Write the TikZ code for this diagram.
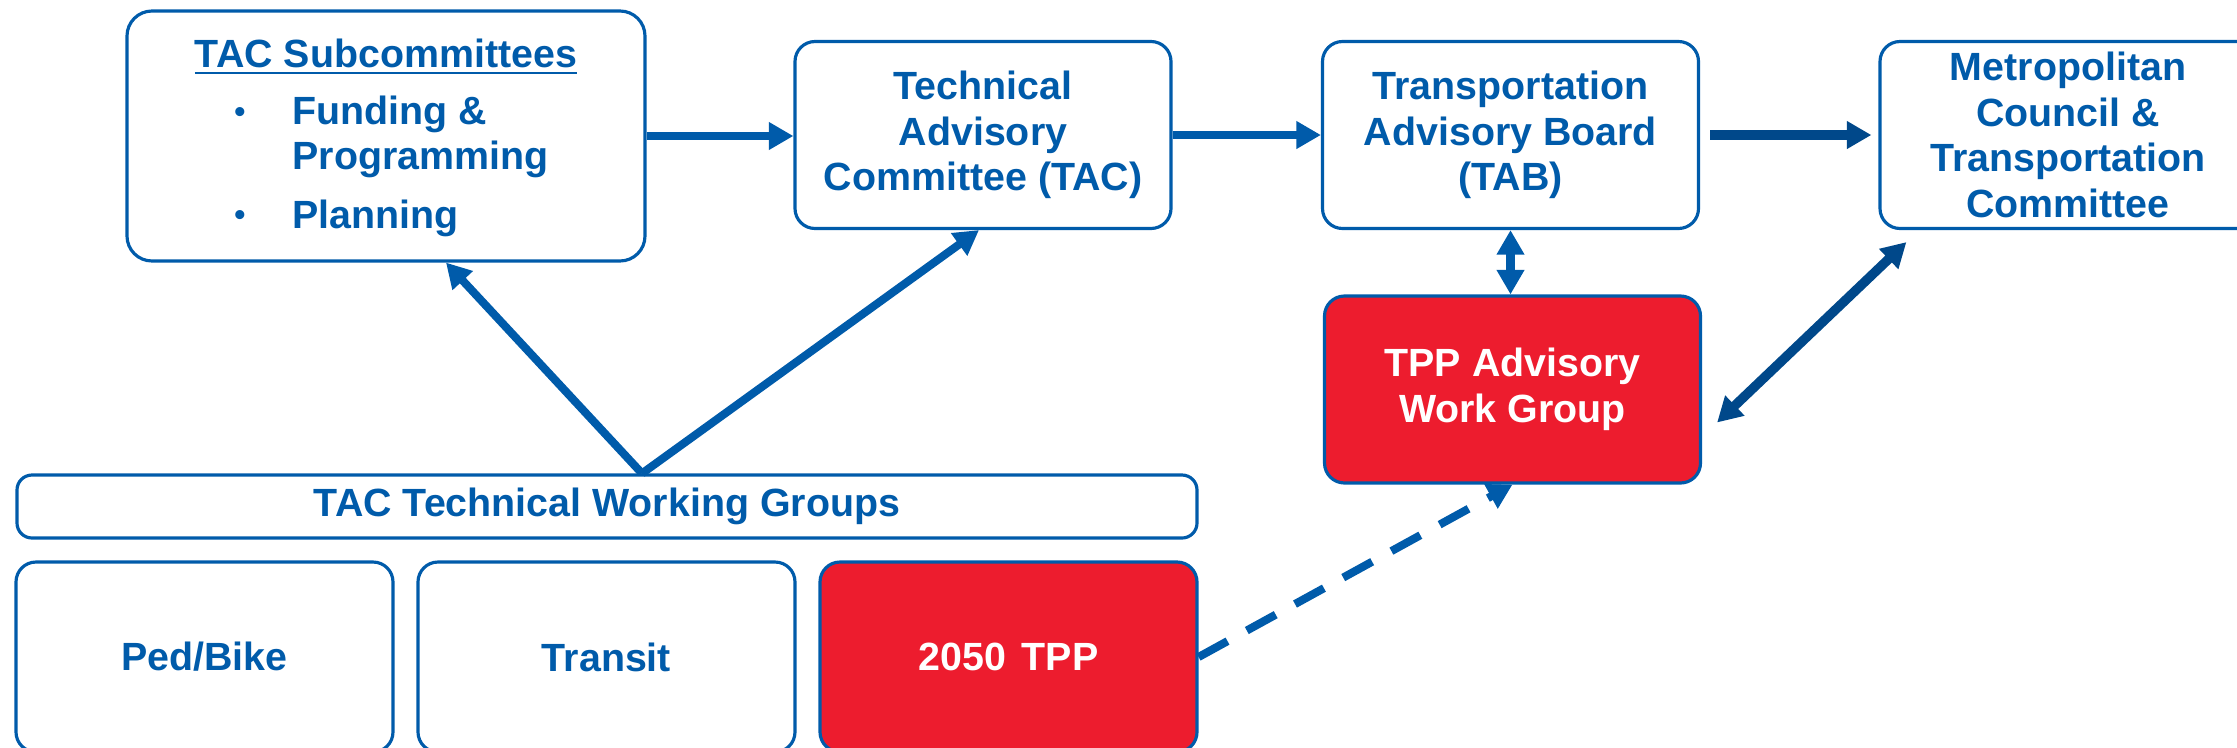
\documentclass[tikz,border=0pt]{standalone}
\usepackage{fontspec}
\setmainfont{Liberation Sans}
\usetikzlibrary{arrows.meta,calc}

\definecolor{metblue}{RGB}{0,91,170}
\definecolor{metdark}{RGB}{0,72,138}
\definecolor{tppred}{RGB}{237,28,46}

\tikzset{%
  box text/.style={
    text=metblue,
    font=\bfseries\fontsize{11.2}{13}\selectfont
  },
  every box/.style={
    box text,
    rectangle,
    rounded corners=0.2cm,
    draw=metblue,
    line width=0.9pt,
    fill=white,
    align=center,
    inner sep=0pt,
    minimum width=3.76cm,
    minimum height=1.87cm
  },
  box plan/.style={
    fill=tppred,
    text=white
  },
  box tpp/.style={
    fill=tppred,
    text=white
  },
  link/.style={
    draw=metblue,
    line width=2.3pt
  },
  link dark/.style={
    draw=metdark,
    line width=2.7pt
  },
}

\begin{document}
\begin{tikzpicture}[>={Triangle[length=7pt,width=7.5pt]}]
\useasboundingbox (0,0) rectangle (22.37,-7.47);

\node [every box, minimum width=5.18cm, minimum height=2.5cm, rounded corners=0.25cm] (sub) at (3.86,-1.36) {};
\node [box text] (sub-title) at (3.86,-0.57) {\underline{TAC Subcommittees}};
\node [box text, align=left, anchor=west, inner xsep=0pt] (sub-fund) at (2.92,-1.37) {Funding \&\\Programming};
\node [box text, anchor=west, inner xsep=0pt] (sub-plan) at (2.92,-2.18) {Planning};
\foreach \n/\y in {fund/-1.15, plan/-2.18}
  \node [box text, font=\bfseries\small] (dot-\n) at (2.40,\y) {•};

\foreach \m/\l/\x in {tac/{Technical\\Advisory\\Committee (TAC)}/9.83,
                      tab/{Transportation\\Advisory Board\\(TAB)}/15.105,
                      met/{Metropolitan\\Council \&\\Transportation\\Committee}/20.68}
  \node [every box/.try, box \m/.try] (\m) at (\x,-1.35) {\l};

\node [every box, box tpp] (tpp) at (15.125,-3.895) {TPP Advisory\\Work Group};

\node [every box, minimum width=11.8cm, minimum height=0.63cm, rounded corners=0.15cm] (twg) at (6.07,-5.065) {TAC Technical Working Groups};

\foreach \m/\l [count=\i from 0] in {ped/Ped\slash Bike, transit/Transit, plan/2050\hspace{0.4em}TPP}
  \node [every box/.try, box \m/.try, minimum width=3.77cm, minimum height=1.9cm] (\m) at (2.045+\i*4.02,-6.57) {\l};

\draw [link, ->] (sub.east) -- (sub.east -| tac.west);
\draw [link, ->] (tac.east) -- (tab.west);
\draw [link dark, ->, shorten <=0.1cm, shorten >=0.07cm] (tab.east) -- (tab.east -| met.west);
\draw [link, <->] (tab.south) -- (tab.south |- tpp.north);
\draw [link dark, <->] ([xshift=0.28cm,yshift=-0.12cm]met.south west) -- ([xshift=0.15cm,yshift=-0.33cm]tpp.east);

\coordinate (fork) at ([xshift=0.35cm]twg.north);
\draw [link, ->] (fork) -- ([xshift=0.6cm]sub.south);
\draw [link, ->] (fork) -- ([xshift=-0.04cm]tac.south);

\draw [link, ->, dash pattern=on 0.33cm off 0.22cm] (plan.east) -- (tpp.south);

\end{tikzpicture}
\end{document}
